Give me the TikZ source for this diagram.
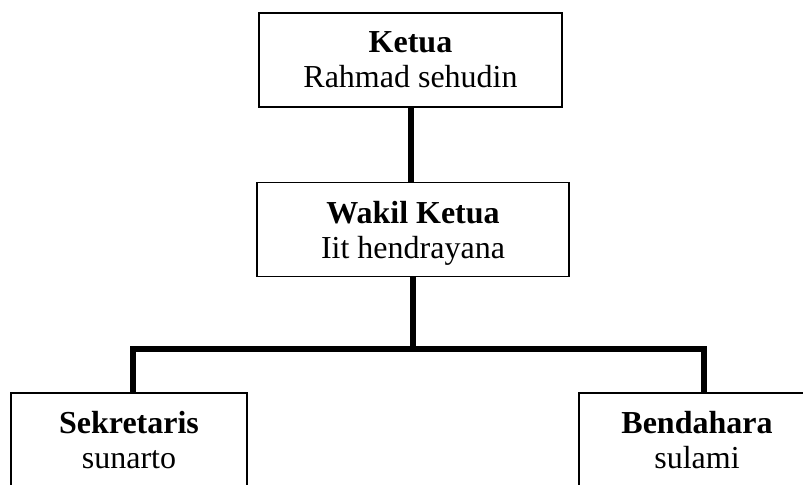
\documentclass[tikz,border=0pt]{standalone}
\usepackage{fontspec}
\setmainfont{Liberation Serif}
\usepackage{tikz}
\usetikzlibrary{
  positioning,
  calc
}

\begin{document}
\begin{tikzpicture}[
  box/.style={draw, line width=0.8pt, align=center, inner sep=0pt,
    minimum height=47pt, text depth=0pt,
    font=\fontsize{16}{17.5}\selectfont},
  link/.style={line width=3pt, line join=miter}
]
\useasboundingbox (0,0) rectangle (401.5pt,-242pt);

\node[box, minimum width=151.5pt] (ketua) at (205.25pt,-30pt) {\textbf{Ketua}\\Rahmad sehudin};
\node[box, minimum width=156pt, below=37pt of ketua, xshift=1.25pt] (wakil) {\textbf{Wakil Ketua}\\Iit hendrayana};
\node[box, minimum width=118pt] (sekre) at (64.5pt,-220pt) {\textbf{Sekretaris}\\sunarto};
\node[box, minimum width=118pt] (benda) at (348.5pt,-220pt) {\textbf{Bendahara}\\sulami};

% garis penghubung
\coordinate (bar) at ($(wakil.south)+(0,-36pt)$);
\draw[link] (ketua.south) -- (ketua.south |- wakil.north);
\draw[link] (wakil.south) -- (bar);
\draw[link] ([xshift=2pt]sekre.north) |- (bar) -| ([xshift=3.5pt]benda.north);
\end{tikzpicture}
\end{document}
